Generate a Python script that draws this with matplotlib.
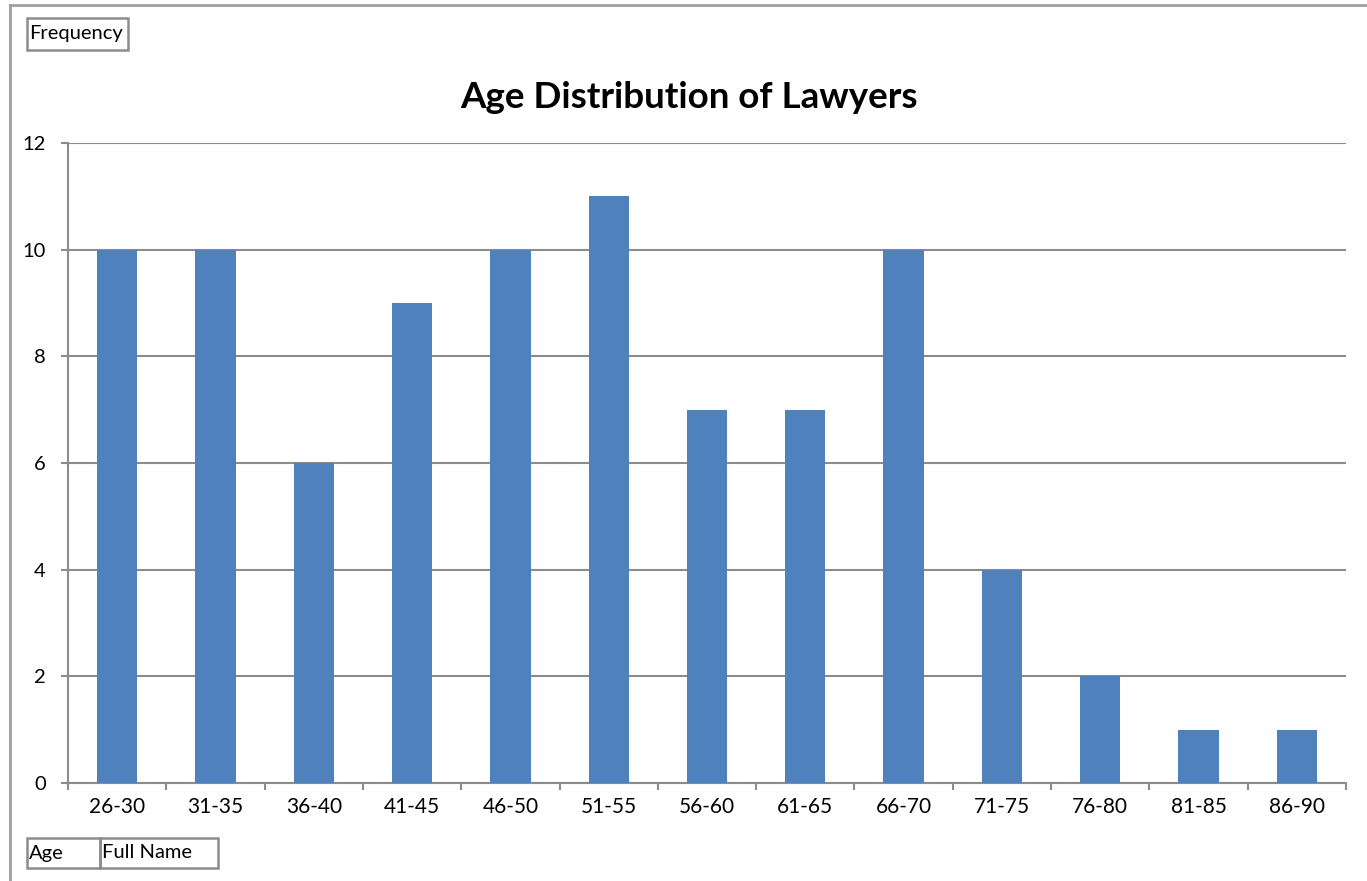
import matplotlib
matplotlib.use("Agg")
import matplotlib.pyplot as plt
from matplotlib.patches import Rectangle
from matplotlib.lines import Line2D

plt.rcParams["font.family"] = ["Lato", "DejaVu Sans"]

# data
age_groups = ["26-30", "31-35", "36-40", "41-45", "46-50", "51-55", "56-60",
              "61-65", "66-70", "71-75", "76-80", "81-85", "86-90"]
frequency = [10, 10, 6, 9, 10, 11, 7, 7, 10, 4, 2, 1, 1]
y_ticks = [0, 2, 4, 6, 8, 10, 12]

W, H = 1367, 881
fig = plt.figure(figsize=(W / 100, H / 100), dpi=100, facecolor="white")

def fx(px):
    return px / W

def fy(py):
    return 1 - py / H

ax = fig.add_axes([fx(68), fy(783), fx(1346) - fx(68), fy(143) - fy(783)])

grid_col = "#8c8c8c"
bar_col = "#4f81bd"

x = list(range(len(age_groups)))
ax.bar(x, frequency, width=0.41, color=bar_col, zorder=3)

ax.set_xlim(-0.5, len(age_groups) - 0.5)
ax.set_ylim(0, 12)
ax.set_yticks(y_ticks)
ax.set_yticklabels([str(v) for v in y_ticks], fontsize=14.5)
ax.yaxis.grid(True, color=grid_col, linewidth=1.5, zorder=0)

# category labels centered, ticks on the boundaries
ax.set_xticks(x)
ax.set_xticklabels(age_groups, fontsize=15)
ax.tick_params(axis="x", length=0, pad=10)
ax.set_xticks([i - 0.5 for i in range(len(age_groups) + 1)], minor=True)
ax.tick_params(axis="x", which="minor", length=5, width=1.5, color=grid_col)
ax.tick_params(axis="y", length=5, width=1.5, color=grid_col, pad=11)

for side in ["top", "right"]:
    ax.spines[side].set_visible(False)
for side in ["left", "bottom"]:
    ax.spines[side].set_color(grid_col)
    ax.spines[side].set_linewidth(1.5)

# title
fig.text(fx(689), fy(98), "Age Distribution of Lawyers", ha="center", va="center",
         fontsize=26.5, fontweight="bold")

# outer chart border
fig.add_artist(Line2D([fx(10), fx(10)], [fy(5), fy(881)], color="#a0a0a0", linewidth=2))
fig.add_artist(Line2D([fx(10), fx(1367)], [fy(5), fy(5)], color="#a0a0a0", linewidth=2))

# pivot field buttons
def field_box(x0, x1, y0, y1, label):
    fig.add_artist(Rectangle((fx(x0), fy(y1)), fx(x1) - fx(x0), fy(y0) - fy(y1),
                             transform=fig.transFigure, fill=False,
                             edgecolor="#8c8c8c", linewidth=1.8))
    fig.text(fx(x0 + 2), fy((y0 + y1) / 2), label, ha="left", va="center", fontsize=14.5)

field_box(27, 128, 18, 50, "Frequency")
field_box(27, 100, 838, 868, "Age")
field_box(100, 218, 838, 868, "Full Name")

fig.savefig("out.png", dpi=100, facecolor="white")
